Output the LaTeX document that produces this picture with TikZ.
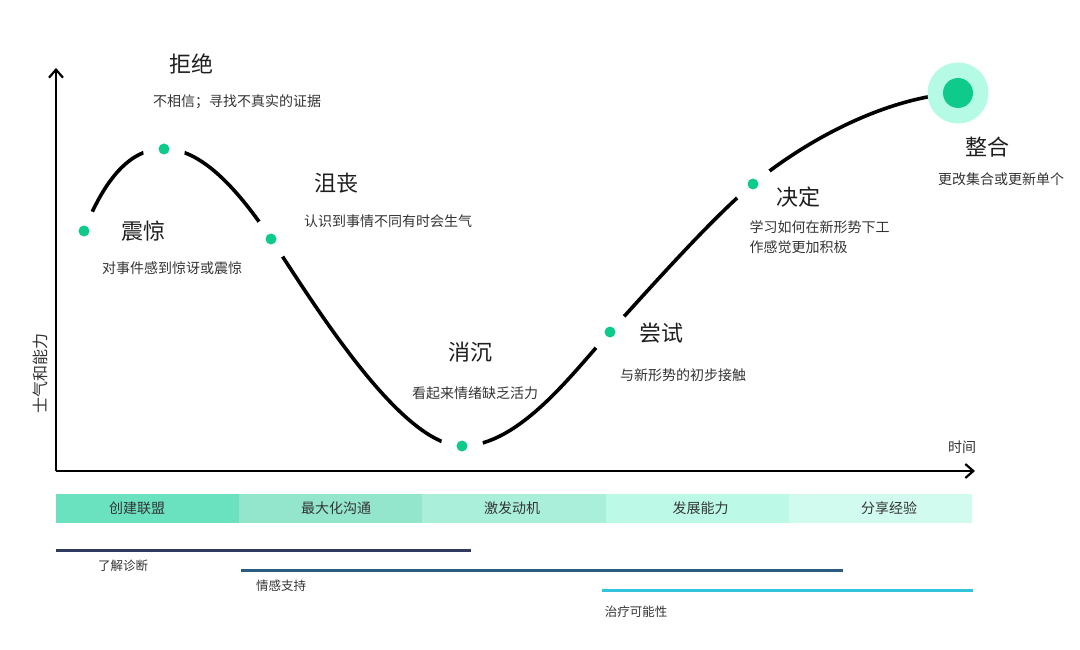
\documentclass[tikz,border=0pt]{standalone}
\usepackage{fontspec}
\setmainfont{Noto Sans CJK SC}
\usetikzlibrary{arrows.meta}
\definecolor{dotgreen}{HTML}{0ECB8C}
\definecolor{halo}{HTML}{B5FAE5}
\definecolor{bandA}{HTML}{6AE2BF}
\definecolor{bandB}{HTML}{93E5CC}
\definecolor{bandC}{HTML}{A9EFD9}
\definecolor{bandD}{HTML}{BDF9E7}
\definecolor{bandE}{HTML}{D0FBEE}
\definecolor{phaseA}{HTML}{2F3A60}
\definecolor{phaseB}{HTML}{2C5B80}
\definecolor{phaseC}{HTML}{30C3DA}
\definecolor{inkdark}{HTML}{1E1E1E}
\definecolor{inkgray}{HTML}{333333}
\begin{document}
\begin{tikzpicture}[x=1pt, y=-1pt,
		axis/.style={black, line width=2.2pt, -{Straight Barb[length=8pt, width=14pt]}},
		curve/.style={black, line width=3.6pt},
		gap/.style={white},
		stagedot/.style={circle, fill=dotgreen, minimum size=11pt, inner sep=0pt},
		stagename/.style={text=inkdark, font=\fontsize{22}{24}\selectfont},
		stagetext/.style={text=inkgray, font=\fontsize{14}{20}\selectfont, align=left},
		band/.style={minimum width=183.2pt, minimum height=28.4pt, inner sep=0pt},
		bandtext/.style={text=inkdark!90, font=\fontsize{14}{16}\selectfont},
		phase/.style={line width=3pt},
		phasetext/.style={text=inkgray, font=\fontsize{12.5}{14}\selectfont}]
		\useasboundingbox (0,0) rectangle (1080,650);

		\coordinate (origin) at (56,471);
		\coordinate (ytop) at (56,68);
		\coordinate (xend) at (975,471);
		\draw [axis] (origin) -- (ytop);
		\draw [axis] (origin) -- (xend);
		\node[text=inkgray, font=\fontsize{16}{18}\selectfont, rotate=90] (ylab) at (40,373) {士气和能力};
		\node[text=inkgray, font=\fontsize{14}{16}\selectfont] (xlab) at (962,447) {时间};

		\coordinate (shock) at (84,231);
		\coordinate (denial) at (164,149);
		\coordinate (anger) at (271,239);
		\coordinate (low) at (462,446);
		\coordinate (trial) at (610,332);
		\coordinate (decide) at (753,184);
		\coordinate (merge) at (958,93);

		\draw [curve] (shock) .. controls (104,180) and (130,148) .. (denial)
			.. controls (205,148) and (245,200) .. (anger)
			.. controls (311,299) and (400,446) .. (low)
			.. controls (520,446) and (575,370) .. (trial)
			.. controls (650,288) and (713,217) .. (decide)
			.. controls (800,145) and (880,98) .. (merge);

		\fill [gap] (shock) circle (21);
		\fill [gap] (denial) circle (21);
		\fill [gap] (anger) circle (21);
		\fill [gap] (low) circle (21);
		\fill [gap] (trial) circle (21);
		\fill [gap] (decide) circle (21);
		\node[stagedot] (shockdot) at (shock) {};
		\node[stagedot] (denialdot) at (denial) {};
		\node[stagedot] (angerdot) at (anger) {};
		\node[stagedot] (lowdot) at (low) {};
		\node[stagedot] (trialdot) at (trial) {};
		\node[stagedot] (decidedot) at (decide) {};
		\fill [halo] (merge) circle (30.5);
		\fill [dotgreen] (merge) circle (15);

		\node[stagename] (denialname) at (191,64) {拒绝};
		\node[stagetext] (denialtext) at (237,102) {不相信；寻找不真实的证据};
		\node[stagename] (shockname) at (143,231) {震惊};
		\node[stagetext] (shocktext) at (172,268) {对事件感到惊讶或震惊};
		\node[stagename] (angername) at (336,183) {沮丧};
		\node[stagetext] (angertext) at (388,221) {认识到事情不同有时会生气};
		\node[stagename] (lowname) at (470,352) {消沉};
		\node[stagetext] (lowtext) at (475,393) {看起来情绪缺乏活力};
		\node[stagename] (trialname) at (661,333) {尝试};
		\node[stagetext] (trialtext) at (683,375) {与新形势的初步接触};
		\node[stagename] (decidename) at (798,197) {决定};
		\node[stagetext, anchor=west] (decidetext) at (746,237) {学习如何在新形势下工\\作感觉更加积极};
		\node[stagename] (mergename) at (987,147) {整合};
		\node[stagetext] (mergetext) at (1001,179) {更改集合或更新单个};

		\node[band, fill=bandA] (coalition) at (147.6,508.5) {};
		\node[band, fill=bandB] (talk) at (330.8,508.5) {};
		\node[band, fill=bandC] (drive) at (514,508.5) {};
		\node[band, fill=bandD] (skill) at (697.2,508.5) {};
		\node[band, fill=bandE] (share) at (880.4,508.5) {};
		\node[bandtext] (coalitiontext) at (137,508.5) {创建联盟};
		\node[bandtext] (talktext) at (336,508.5) {最大化沟通};
		\node[bandtext] (drivetext) at (512,508.5) {激发动机};
		\node[bandtext] (skilltext) at (700.5,508.5) {发展能力};
		\node[bandtext] (sharetext) at (889,508.5) {分享经验};

		\draw [phase, phaseA] (56,550.5) -- (471,550.5);
		\node[phasetext] (diagnose) at (123,566) {了解诊断};
		\draw [phase, phaseB] (241,570) -- (843,570);
		\node[phasetext] (support) at (281,586) {情感支持};
		\draw [phase, phaseC] (602,590) -- (973,590);
		\node[phasetext] (therapy) at (636,611.5) {治疗可能性};

\end{tikzpicture}
\end{document}
